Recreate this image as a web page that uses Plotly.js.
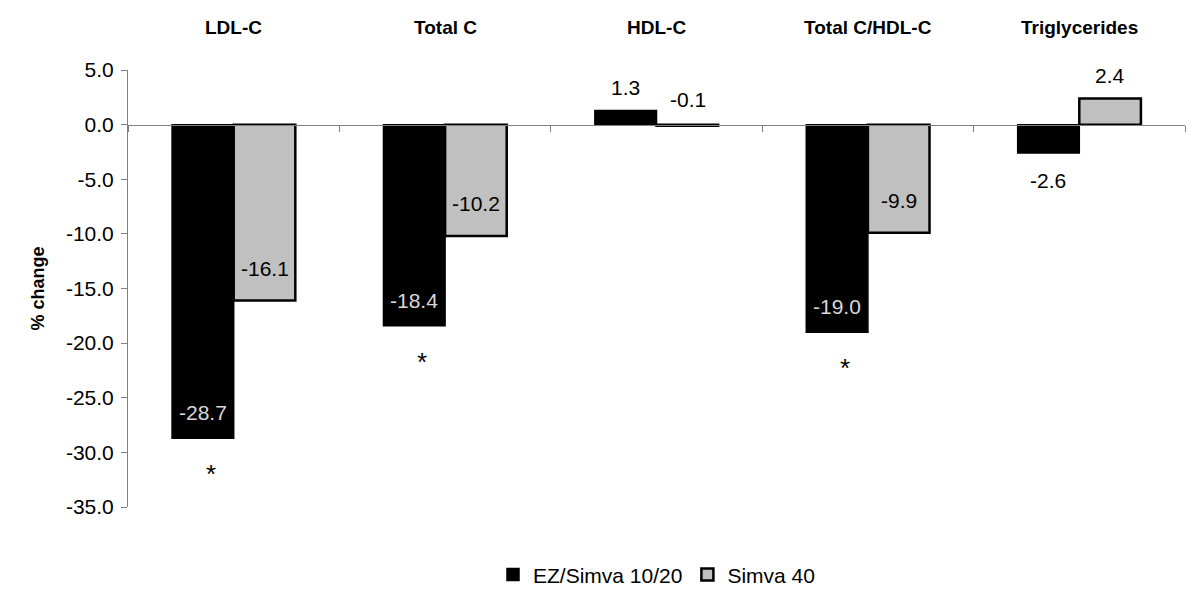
<!DOCTYPE html>
<html>
<head>
<meta charset="utf-8">
<script src="https://cdn.plot.ly/plotly-3.0.1.min.js"></script>
<style>html,body{margin:0;padding:0;background:#fff;}#chart{width:1200px;height:595px;}</style>
</head>
<body>
<div id="chart"></div>
<script>
var categories = ['LDL-C', 'Total C', 'HDL-C', 'Total C/HDL-C', 'Triglycerides'];
var seriesNames = ['EZ/Simva 10/20', 'Simva 40'];
var ezSimva = [-28.7, -18.4, 1.3, -19.0, -2.6];
var simva40 = [-16.1, -10.2, -0.1, -9.9, 2.4];
var ezLabels = ['-28.7', '-18.4', '1.3', '-19.0', '-2.6'];
var simvaLabels = ['-16.1', '-10.2', '-0.1', '-9.9', '2.4'];
var significant = [true, true, false, true, false];
var yTickVals = [5, 0, -5, -10, -15, -20, -25, -30, -35];
var yTickText = ['5.0', '0.0', '-5.0', '-10.0', '-15.0', '-20.0', '-25.0', '-30.0', '-35.0'];

var FONT = 'Liberation Sans, Arial, sans-serif';
var barColors = ['#000000', '#c0c0c0'];
var insideText = ['#d8d8d8', '#000000'];
var halfBar = 31;
var LBL = 21;

var traces = [
  {type: 'bar', name: seriesNames[0], x: categories, y: ezSimva,
   marker: {color: barColors[0], line: {color: '#000', width: 1.5}}, hoverinfo: 'x+y'},
  {type: 'bar', name: seriesNames[1], x: categories, y: simva40,
   marker: {color: barColors[1], line: {color: '#000', width: 2.5}}, hoverinfo: 'x+y'}
];

var annotations = [];
categories.forEach(function (c) {
  annotations.push({x: c, xref: 'x', y: 1.098, yref: 'paper', text: '<b>' + c + '</b>',
    showarrow: false, font: {family: FONT, size: 19, color: '#000'}, yanchor: 'middle'});
});

function addLabels(vals, labels, sIdx, inShift) {
  var xs = sIdx === 0 ? -halfBar : halfBar;
  vals.forEach(function (v, i) {
    var a = {x: categories[i], xref: 'x', yref: 'y', text: labels[i], showarrow: false,
      xshift: xs, font: {family: FONT, size: LBL, color: '#000'}};
    if (Math.abs(v) > 5) {
      a.y = v; a.yanchor = 'bottom'; a.yshift = inShift; a.font.color = insideText[sIdx];
    } else if (v >= 0 || Math.abs(v) < 0.5) {
      a.y = Math.max(v, 0); a.yanchor = 'bottom'; a.yshift = v >= 0 ? 9 : 12;
    } else {
      a.y = v; a.yanchor = 'top'; a.yshift = -14;
    }
    annotations.push(a);
  });
}
addLabels(ezSimva, ezLabels, 0, 12);
addLabels(simva40, simvaLabels, 1, 19);

significant.forEach(function (s, i) {
  if (s) {
    annotations.push({x: categories[i], xref: 'x', y: ezSimva[i], yref: 'y', text: '*',
      showarrow: false, xshift: -halfBar + 8, yshift: -36, yanchor: 'middle',
      font: {family: FONT, size: 26, color: '#000'}});
  }
});

var layout = {
  width: 1200, height: 595,
  margin: {l: 128, r: 15, t: 70, b: 88},
  paper_bgcolor: '#fff', plot_bgcolor: '#fff',
  barmode: 'group', bargap: 0.417, bargroupgap: 0,
  font: {family: FONT, size: LBL, color: '#000'},
  showlegend: true,
  legend: {orientation: 'h', x: 0.5, xanchor: 'center', yref: 'container', y: 0.034, yanchor: 'middle',
    font: {family: FONT, size: LBL, color: '#000'}, itemwidth: 30, tracegroupgap: 0},
  xaxis: {type: 'category', anchor: 'free', position: 0.875, showline: true, linecolor: '#808080',
    linewidth: 1, ticks: 'outside', tickson: 'boundaries', ticklen: 6, tickcolor: '#808080',
    showticklabels: false, showgrid: false, zeroline: false, fixedrange: true},
  yaxis: {range: [-35, 5], tickvals: yTickVals, ticktext: yTickText, ticks: 'outside', ticklen: 6,
    tickcolor: '#808080', showline: true, linecolor: '#808080', linewidth: 1, showgrid: false,
    zeroline: false, tickfont: {family: FONT, size: LBL, color: '#000'}, ticklabelstandoff: 3,
    automargin: false,
    title: {text: '<b>% change</b>', font: {family: FONT, size: 18, color: '#000'}, standoff: 16}},
  annotations: annotations
};

Plotly.newPlot('chart', traces, layout, {displayModeBar: false, responsive: false});
</script>
</body>
</html>
